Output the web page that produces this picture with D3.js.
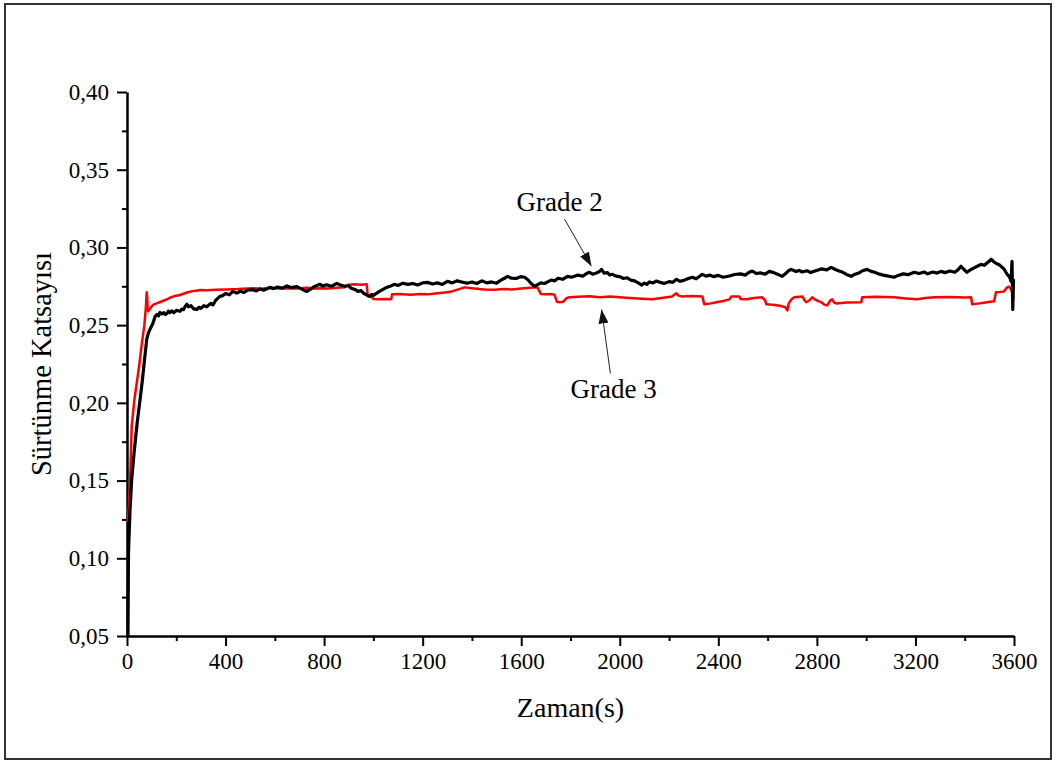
<!DOCTYPE html>
<html>
<head>
<meta charset="utf-8">
<script src="https://cdn.jsdelivr.net/npm/d3@7"></script>
<style>
    body { margin: 0; background: #fff; }
    text { font-family: "Liberation Serif", "Times New Roman", serif; fill: #000; }
</style>
</head>
<body>
<script>
let width = 1057;
let height = 762;

let xTicks = [0, 400, 800, 1200, 1600, 2000, 2400, 2800, 3200, 3600];
let yTicks = [0.05, 0.10, 0.15, 0.20, 0.25, 0.30, 0.35, 0.40];
let xTitle = "Zaman(s)";
let yTitle = "Sürtünme Katsayısı";

// Grade 2 (black), [time s, coefficient]
let grade2 = [[0,0.050],[4,0.050],[6,0.1035],[12,0.130],[19,0.1506],[30,0.170],[42,0.188],[53,0.2021],[62,0.2140],[70,0.2260],[80,0.2408],[86,0.2445],[93,0.2472],[105,0.2510],[114,0.2556],[122,0.2569],[128,0.2560],[134,0.2582],[142,0.2572],[150,0.2580],[156,0.2568],[162,0.2575],[168,0.2590],[174,0.2580],[182,0.2592],[190,0.2580],[200,0.2595],[215,0.2589],[222,0.2603],[230,0.2600],[236,0.2620],[243,0.2634],[250,0.2618],[260,0.2625],[270,0.2605],[284,0.2601],[292,0.2615],[300,0.2608],[312,0.2625],[324,0.2618],[332,0.2630],[340,0.2640],[349,0.2630],[360,0.2660],[368,0.2672],[377,0.2685],[388,0.2690],[400,0.2703],[415,0.2695],[430,0.2717],[445,0.2706],[460,0.2718],[475,0.2710],[490,0.2726],[511,0.2728],[525,0.2720],[540,0.2733],[555,0.2725],[580,0.2743],[595,0.2735],[610,0.2745],[630,0.2738],[649,0.2752],[665,0.2742],[690,0.2748],[705,0.2735],[718,0.2725],[730,0.2717],[745,0.2732],[760,0.2748],[782,0.2763],[795,0.2752],[810,0.2760],[830,0.2750],[851,0.2769],[866,0.2758],[884,0.2750],[897,0.2755],[910,0.2738],[925,0.2730],[937,0.2717],[950,0.2722],[960,0.2705],[972,0.2695],[985,0.2685],[993,0.2698],[1000,0.2692],[1018,0.2711],[1030,0.2722],[1050,0.2740],[1065,0.2748],[1086,0.2763],[1100,0.2755],[1120,0.2770],[1140,0.2762],[1160,0.2768],[1180,0.2758],[1200,0.2772],[1220,0.2775],[1240,0.2765],[1260,0.2772],[1280,0.2762],[1300,0.2782],[1320,0.2772],[1340,0.2785],[1358,0.2778],[1380,0.2770],[1400,0.2778],[1420,0.2768],[1440,0.2785],[1460,0.2772],[1480,0.2778],[1500,0.2770],[1520,0.2792],[1530,0.2800],[1545,0.2814],[1560,0.2802],[1580,0.2800],[1597,0.2812],[1614,0.2808],[1628,0.2790],[1640,0.2768],[1654,0.2750],[1668,0.2762],[1680,0.2772],[1695,0.2768],[1707,0.2778],[1722,0.2790],[1735,0.2785],[1750,0.2802],[1768,0.2795],[1788,0.2814],[1805,0.2808],[1830,0.2822],[1850,0.2815],[1865,0.2832],[1877,0.2840],[1890,0.2828],[1905,0.2836],[1918,0.2845],[1926,0.2859],[1936,0.2835],[1950,0.2838],[1960,0.2822],[1970,0.2827],[1985,0.2815],[2000,0.2812],[2015,0.2800],[2030,0.2805],[2045,0.2790],[2060,0.2785],[2075,0.2772],[2088,0.2758],[2100,0.2770],[2110,0.2762],[2120,0.2778],[2135,0.2772],[2149,0.2784],[2165,0.2775],[2180,0.2768],[2200,0.2780],[2215,0.2775],[2230,0.2795],[2245,0.2782],[2260,0.2788],[2278,0.2800],[2295,0.2808],[2310,0.2798],[2335,0.2827],[2350,0.2815],[2365,0.2822],[2380,0.2812],[2400,0.2820],[2420,0.2808],[2445,0.2816],[2465,0.2826],[2490,0.2830],[2510,0.2822],[2525,0.2840],[2538,0.2848],[2555,0.2832],[2570,0.2836],[2590,0.2828],[2607,0.2846],[2625,0.2838],[2640,0.2828],[2659,0.2814],[2672,0.2830],[2685,0.2850],[2696,0.2859],[2715,0.2845],[2728,0.2852],[2740,0.2842],[2760,0.2850],[2775,0.2838],[2789,0.2846],[2805,0.2855],[2820,0.2862],[2840,0.2855],[2858,0.2872],[2875,0.2858],[2890,0.2848],[2905,0.2840],[2920,0.2826],[2939,0.2814],[2955,0.2828],[2970,0.2835],[2985,0.2850],[3004,0.2859],[3020,0.2846],[3035,0.2840],[3050,0.2830],[3070,0.2822],[3090,0.2815],[3113,0.2808],[3130,0.2820],[3150,0.2830],[3170,0.2825],[3195,0.2840],[3215,0.2832],[3235,0.2842],[3250,0.2830],[3270,0.2842],[3288,0.2835],[3304,0.2846],[3320,0.2838],[3340,0.2848],[3360,0.2840],[3375,0.2860],[3385,0.2879],[3397,0.2858],[3409,0.2840],[3425,0.2858],[3440,0.2870],[3455,0.2882],[3466,0.2891],[3480,0.2885],[3490,0.2900],[3500,0.2912],[3507,0.2924],[3518,0.2908],[3530,0.2895],[3540,0.2888],[3547,0.2879],[3560,0.2860],[3572,0.2827],[3582,0.2810],[3588,0.2782],[3592,0.2911],[3595,0.2601],[3598,0.2790],[3600,0.2785]];

// Grade 3 (red)
let grade3 = [[3,0.1235],[8,0.1350],[12,0.1473],[19,0.1847],[30,0.2021],[49,0.2234],[60,0.2380],[70,0.2495],[76,0.2600],[80,0.2711],[82,0.2680],[84,0.2600],[86,0.2590],[93,0.2605],[105,0.2630],[120,0.2640],[140,0.2652],[160,0.2665],[174,0.2676],[195,0.2688],[215,0.2694],[243,0.2710],[260,0.2716],[280,0.2722],[300,0.2726],[324,0.2724],[360,0.2728],[405,0.2730],[450,0.2732],[511,0.2737],[545,0.2734],[580,0.2740],[615,0.2736],[649,0.2738],[690,0.2735],[730,0.2741],[760,0.2736],[782,0.2738],[815,0.2735],[851,0.2741],[884,0.2744],[900,0.2760],[924,0.2763],[950,0.2760],[973,0.2763],[977,0.2685],[995,0.2680],[1000,0.2668],[1018,0.2666],[1050,0.2668],[1072,0.2666],[1076,0.2698],[1110,0.2700],[1150,0.2696],[1190,0.2700],[1220,0.2698],[1260,0.2705],[1290,0.2710],[1318,0.2717],[1345,0.2730],[1370,0.2743],[1400,0.2738],[1430,0.2732],[1451,0.2730],[1490,0.2728],[1530,0.2733],[1561,0.2730],[1600,0.2736],[1635,0.2740],[1666,0.2743],[1680,0.2700],[1695,0.2698],[1720,0.2700],[1735,0.2696],[1745,0.2650],[1755,0.2647],[1770,0.2650],[1785,0.2675],[1796,0.2679],[1830,0.2682],[1877,0.2686],[1920,0.2680],[1960,0.2684],[1999,0.2679],[2040,0.2675],[2090,0.2670],[2132,0.2666],[2170,0.2675],[2213,0.2685],[2225,0.2700],[2230,0.2705],[2238,0.2690],[2250,0.2685],[2290,0.2688],[2335,0.2685],[2343,0.2634],[2370,0.2640],[2392,0.2647],[2420,0.2655],[2445,0.2666],[2453,0.2685],[2485,0.2685],[2490,0.2668],[2514,0.2666],[2545,0.2675],[2578,0.2679],[2590,0.2660],[2595,0.2634],[2630,0.2630],[2659,0.2621],[2672,0.2615],[2680,0.2595],[2686,0.2640],[2696,0.2665],[2708,0.2679],[2741,0.2685],[2750,0.2660],[2757,0.2647],[2770,0.2660],[2781,0.2679],[2795,0.2662],[2818,0.2647],[2830,0.2632],[2842,0.2627],[2855,0.2660],[2862,0.2666],[2870,0.2645],[2878,0.2640],[2920,0.2645],[2980,0.2647],[2984,0.2679],[3040,0.2682],[3113,0.2679],[3160,0.2672],[3207,0.2666],[3240,0.2675],[3276,0.2679],[3340,0.2681],[3400,0.2678],[3426,0.2679],[3430,0.2634],[3460,0.2640],[3490,0.2647],[3519,0.2653],[3527,0.2711],[3545,0.2714],[3559,0.2717],[3572,0.2743],[3580,0.2748],[3588,0.2730],[3594,0.2705],[3598,0.2666]];

// labels with arrow: text anchor point, arrow start, arrow tip
let notes = [
    { label: "Grade 2", tx: 1581, ty: 0.3233, x1: 1776, y1: 0.3182, x2: 1885, y2: 0.2879 },
    { label: "Grade 3", tx: 1800, ty: 0.2034, x1: 1962, y1: 0.2189, x2: 1926, y2: 0.2601 }
];

let svg = d3.select("body")
    .append("svg")
    .attr("width", width)
    .attr("height", height);

svg.append("rect")
    .attr("x", 5)
    .attr("y", 4)
    .attr("width", 1046)
    .attr("height", 755)
    .attr("fill", "none")
    .attr("stroke", "#333")
    .attr("stroke-width", 2);

let x = d3.scaleLinear().domain([0, 3600]).range([127, 1014]);
let y = d3.scaleLinear().domain([0.05, 0.40]).range([636, 92]);

let fmtY = function(d) { return d3.format(".2f")(d).replace(".", ","); };

// minor ticks first
svg.append("g")
    .attr("transform", "translate(0,636)")
    .call(d3.axisBottom(x).tickValues(d3.range(200, 3600, 400)).tickSize(5).tickFormat(""))
    .call(g => g.select(".domain").remove())
    .call(g => g.selectAll("line").attr("stroke-width", 2));

svg.append("g")
    .attr("transform", "translate(127,0)")
    .call(d3.axisLeft(y).tickValues([0.075, 0.125, 0.175, 0.225, 0.275, 0.325, 0.375]).tickSize(5).tickFormat(""))
    .call(g => g.select(".domain").remove())
    .call(g => g.selectAll("line").attr("stroke-width", 2));

let xAxis = svg.append("g")
    .attr("transform", "translate(0,636)")
    .call(d3.axisBottom(x).tickValues(xTicks).tickSize(10).tickSizeOuter(0).tickPadding(7).tickFormat(d3.format("d")));
xAxis.select(".domain").attr("stroke-width", 2.5);
xAxis.selectAll("line").attr("stroke-width", 2);
xAxis.selectAll("text")
    .style("font-size", "23px")
    .style("font-family", "'Liberation Serif', serif");

let yAxis = svg.append("g")
    .attr("transform", "translate(127,0)")
    .call(d3.axisLeft(y).tickValues(yTicks).tickSize(10).tickSizeOuter(0).tickPadding(8).tickFormat(fmtY));
yAxis.select(".domain").attr("stroke-width", 2.5);
yAxis.selectAll("line").attr("stroke-width", 2);
yAxis.selectAll("text")
    .style("font-size", "23px")
    .style("font-family", "'Liberation Serif', serif");

svg.append("text")
    .attr("x", (x(0) + x(3600)) / 2)
    .attr("y", 717)
    .attr("text-anchor", "middle")
    .attr("font-size", 28)
    .text(xTitle);

svg.append("text")
    .attr("transform", "translate(51," + ((y(0.05) + y(0.40)) / 2) + ") rotate(-90)")
    .attr("text-anchor", "middle")
    .attr("font-size", 28.5)
    .text(yTitle);

let line = d3.line()
    .x(function(d) { return x(d[0]); })
    .y(function(d) { return y(d[1]); });

svg.append("path")
    .datum(grade3)
    .attr("fill", "none")
    .attr("stroke", "#ff0000")
    .attr("stroke-width", 2.5)
    .attr("stroke-linejoin", "round")
    .attr("d", line);

svg.append("path")
    .datum(grade2)
    .attr("fill", "none")
    .attr("stroke", "#000")
    .attr("stroke-width", 3.2)
    .attr("stroke-linejoin", "round")
    .attr("d", line);

svg.append("defs").append("marker")
    .attr("id", "head")
    .attr("viewBox", "0 0 14 10")
    .attr("refX", 14)
    .attr("refY", 5)
    .attr("markerWidth", 14)
    .attr("markerHeight", 10)
    .attr("markerUnits", "userSpaceOnUse")
    .attr("orient", "auto")
    .append("path")
    .attr("d", "M0,0 L14,5 L0,10 Z")
    .attr("fill", "#111");

let note = svg.selectAll(".note")
    .data(notes)
    .enter()
    .append("g")
    .attr("class", "note");

note.append("line")
    .attr("x1", function(d) { return x(d.x1); })
    .attr("y1", function(d) { return y(d.y1); })
    .attr("x2", function(d) { return x(d.x2); })
    .attr("y2", function(d) { return y(d.y2); })
    .attr("stroke", "#222")
    .attr("stroke-width", 1)
    .attr("marker-end", "url(#head)");

note.append("text")
    .attr("x", function(d) { return x(d.tx); })
    .attr("y", function(d) { return y(d.ty); })
    .attr("font-size", 27)
    .text(function(d) { return d.label; });
</script>
</body>
</html>
